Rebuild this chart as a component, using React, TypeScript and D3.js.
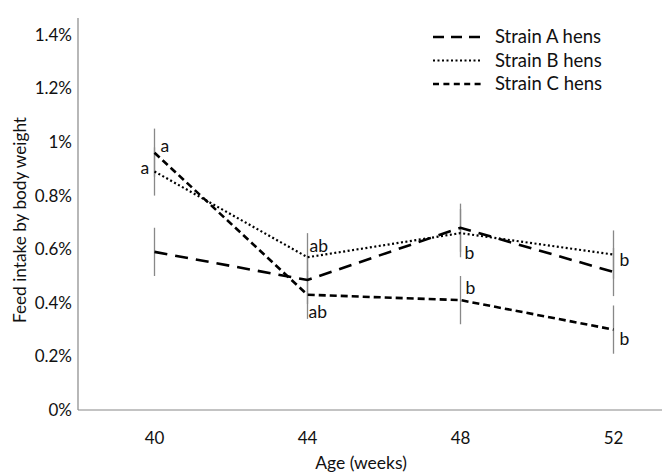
import React from "react";
import * as d3 from "d3";

const ages = ["40", "44", "48", "52"];
const strainA = [0.59, 0.485, 0.68, 0.515];
const strainB = [0.89, 0.57, 0.66, 0.58];
const strainC = [0.96, 0.43, 0.41, 0.3];
const errA = [0.09, 0.09, 0.09, 0.09];
const errB = [0.09, 0.09, 0.09, 0.09];
const errC = [0.09, 0.09, 0.09, 0.09];
const yTicks = [0, 0.2, 0.4, 0.6, 0.8, 1, 1.2, 1.4];
const seriesNames = ["Strain A hens", "Strain B hens", "Strain C hens"];
// letter labels: [series index, age index, text, dx, dy]
const letters: [number, number, string, number, number][] = [
  [2, 0, "a", 6, -7],
  [1, 0, "a", -14, -4],
  [1, 1, "ab", 2, -11],
  [2, 1, "ab", 1, 17],
  [1, 2, "b", 4, 20],
  [2, 2, "b", 5, -12],
  [1, 3, "b", 6, 5],
  [2, 3, "b", 6, 9],
];

const W = 662;
const H = 475;
const font = "Lato, 'Open Sans', sans-serif";

export default function App() {
  const x = d3.scaleBand().domain(ages).range([78, 690]);
  const y = d3.scaleLinear().domain([0, 1]).range([410, 142]);
  const cx = (a: string) => (x(a) as number) + x.bandwidth() / 2;
  const series = [strainA, strainB, strainC];
  const errs = [errA, errB, errC];
  const styles = [
    { dash: "13,8", w: 2.6 },
    { dash: "2,2.5", w: 2.2 },
    { dash: "7,4", w: 2.6 },
  ];
  const line = d3
    .line<number>()
    .x((_, i) => cx(ages[i]))
    .y((d) => y(d));

  const bars: { x: number; y1: number; y2: number }[] = [];
  series.forEach((s, si) =>
    s.forEach((v, i) => {
      bars.push({ x: cx(ages[i]), y1: y(v + errs[si][i]), y2: y(v - errs[si][i]) });
    })
  );

  return (
    <svg width={W} height={H} style={{ position: "absolute", left: 0, top: 0, background: "#fff" }}>
      <rect width={W} height={H} fill="#fff" />
      <line x1={78} x2={78} y1={18} y2={410} stroke="#888" strokeWidth={1.2} />
      <line x1={78} x2={662} y1={410} y2={410} stroke="#888" strokeWidth={1.2} />
      {yTicks.map((t) => (
        <text key={t} x={72} y={y(t)} dy="0.35em" textAnchor="end" fontSize={17} fontFamily={font} fill="#111">
          {`${d3.format("~g")(t)}%`}
        </text>
      ))}
      {ages.map((a) => (
        <text key={a} x={cx(a)} y={444} textAnchor="middle" fontSize={17} fontFamily={font} fill="#111">
          {a}
        </text>
      ))}
      <text x={361} y={469} textAnchor="middle" fontSize={17.5} fontFamily={font} fill="#111">
        Age (weeks)
      </text>
      <text
        transform={`translate(26,${220}) rotate(-90)`}
        textAnchor="middle"
        fontSize={17.2}
        fontFamily={font}
        fill="#111"
      >
        Feed intake by body weight
      </text>
      {bars.map((b, i) => (
        <line key={i} x1={b.x} x2={b.x} y1={b.y1} y2={b.y2} stroke="#888" strokeWidth={1.3} />
      ))}
      {series.map((s, si) => (
        <path
          key={si}
          d={line(s) as string}
          fill="none"
          stroke="#000"
          strokeWidth={styles[si].w}
          strokeDasharray={styles[si].dash}
        />
      ))}
      {letters.map(([si, ai, txt, dx, dy], i) => (
        <text
          key={i}
          x={cx(ages[ai]) + dx}
          y={y(series[si][ai]) + dy}
          dy="0.35em"
          fontSize={17.5}
          fontFamily={font}
          fill="#111"
        >
          {txt}
        </text>
      ))}
      {seriesNames.map((n, i) => (
        <g key={n} transform={`translate(433,${37 + i * 23.5})`}>
          <line
            x1={0}
            x2={48}
            y1={0}
            y2={0}
            stroke="#000"
            strokeWidth={styles[i].w}
            strokeDasharray={i === 0 ? "11,7" : i === 1 ? "2,2.5" : "6,4.4"}
          />
          <text x={62} y={0} dy="0.35em" fontSize={18.5} fontFamily={font} fill="#111">
            {n}
          </text>
        </g>
      ))}
    </svg>
  );
}
